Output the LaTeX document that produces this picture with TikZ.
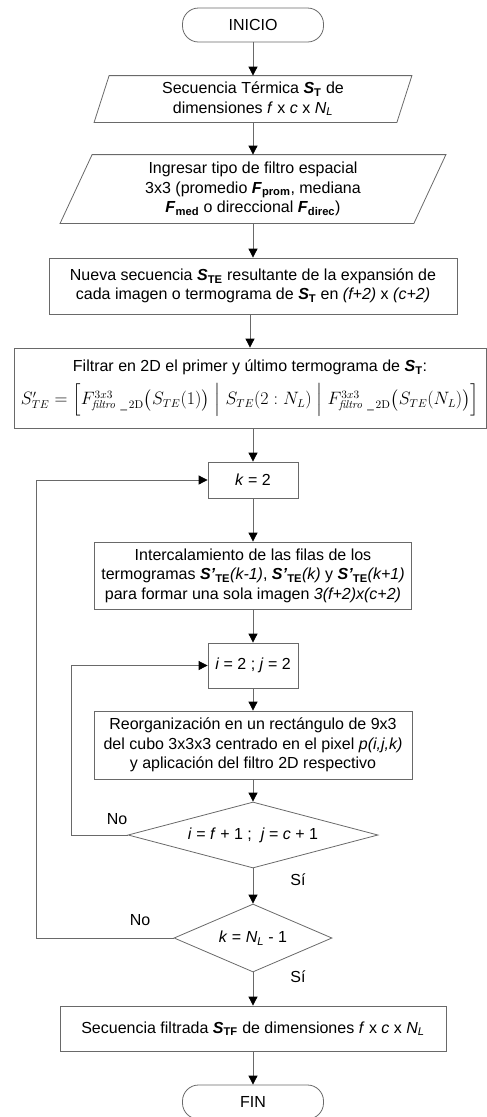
\documentclass[tikz,border=0pt]{standalone}
\usepackage{amsmath}
\usepackage{graphicx}
\usepackage[no-math]{fontspec}
\setmainfont{Liberation Sans}
\usetikzlibrary{positioning, shapes.geometric, arrows.meta, calc}

\definecolor{linegray}{RGB}{105,105,105}
\newcommand{\bv}[2]{\textbf{\textit{#1}\textsubscript{#2}}}
\newcommand{\iv}[2]{\textit{#1}\textsubscript{\textit{#2}}}

\tikzset{
  base/.style={draw=linegray, line width=0.8pt, text=black, font=\fontsize{16}{19.5}\selectfont, align=center, inner sep=0pt},
  procbox/.style={base, rectangle},
  termbox/.style={base, rectangle, rounded corners=16pt},
  iobox/.style={base, draw=none, rectangle},
  decision/.style={base, diamond},
  flow/.style={draw=linegray, line width=0.8pt, -{Triangle[width=9pt,length=9pt,color=black]}},
  lbl/.style={font=\fontsize{16}{19.5}\selectfont, inner sep=0pt}
}

\begin{document}
\begin{tikzpicture}[x=1pt, y=-1pt]
  \useasboundingbox (0,0) rectangle (487,1117);

  % Nodes
  \node[termbox, minimum width=141pt, minimum height=34pt] (inicio) at (253,25) {INICIO};
  \node[iobox, minimum width=317pt, minimum height=46pt] (entrada) at (253,99)
    {Secuencia Térmica \bv{S}{T} de\\dimensiones \textit{f} x \textit{c} x \iv{N}{L}};
  \node[iobox, minimum width=385pt, minimum height=68pt] (tipo) at (253,189)
    {Ingresar tipo de filtro espacial\\3x3 (promedio \bv{F}{prom}, mediana\\\bv{F}{med} o direccional \bv{F}{direc})};
  \node[procbox, minimum width=408pt, minimum height=56pt] (expand) at (253,286)
    {Nueva secuencia \bv{S}{TE} resultante de la expansión de\\cada imagen o termograma de \bv{S}{T} en \textit{(f+2)} x \textit{(c+2)}};
  \node[procbox, minimum width=472pt, minimum height=80pt] (bordes) at (250,388)
    {Filtrar en 2D el primer y último termograma de \bv{S}{T}:\\[8pt]
     \resizebox{458pt}{!}{$S'_{TE} = \Bigl[F^{3x3}_{\mathit{filtro}\ \text{\_}\,\mathrm{2D}}\bigl(S_{TE}(1)\bigr)\Bigm| S_{TE}(2:N_L)\Bigm| F^{3x3}_{\mathit{filtro}\ \text{\_}\,\mathrm{2D}}\bigl(S_{TE}(N_L)\bigr)\Bigr]$}};
  \node[procbox, minimum width=90pt, minimum height=36pt] (kini) at (253,480) {\textit{k} = 2};
  \node[procbox, minimum width=317pt, minimum height=67pt] (inter) at (253,575.5)
    {Intercalamiento de las filas de los\\termogramas \bv{S'}{TE}\textit{(k-1)}, \bv{S'}{TE}\textit{(k)} y \bv{S'}{TE}\textit{(k+1)}\\para formar una sola imagen \textit{3(f+2)x(c+2)}};
  \node[procbox, minimum width=90pt, minimum height=45pt] (ij) at (253,665.5) {\textit{i} = 2 ; \textit{j} = 2};
  \node[procbox, minimum width=318pt, minimum height=68pt] (reorg) at (253,745)
    {Reorganización en un rectángulo de 9x3\\del cubo 3x3x3 centrado en el pixel \textit{p(i,j,k)}\\y aplicación del filtro 2D respectivo};
  \node[decision, aspect=3.8, minimum width=250pt, minimum height=66pt] (fincol) at (253,835)
    {\textit{i} = \textit{f} + 1 ;~ \textit{j} = \textit{c} + 1};
  \node[decision, aspect=2.3, minimum width=158pt, minimum height=68pt] (fink) at (253,938)
    {\textit{k} = \iv{N}{L} - 1};
  \node[procbox, minimum width=386pt, minimum height=45pt] (salida) at (253,1028.5)
    {Secuencia filtrada \bv{S}{TF} de dimensiones \textit{f} x \textit{c} x \iv{N}{L}};
  \node[termbox, minimum width=141pt, minimum height=34pt] (fin) at (253,1102) {FIN};

  % Parallelograms
  \foreach \p/\s in {entrada/15, tipo/32}
  \draw[linegray, line width=0.8pt] ($(\p.north west)+(\s,0)$) -- (\p.north east)
    -- ($(\p.south east)-(\s,0)$) -- (\p.south west) -- cycle;

  % Labels
  \node[lbl] (no1) at (117,819) {No};
  \node[lbl] (si1) at (298,880) {Sí};
  \node[lbl] (no2) at (140,920) {No};
  \node[lbl] (si2) at (298,977) {Sí};

  % Arrows
  \foreach \a/\b in {inicio/entrada, entrada/tipo, tipo/expand, expand/bordes, bordes/kini,
                     kini/inter, inter/ij, ij/reorg, reorg/fincol, fincol/fink, fink/salida, salida/fin}
  \draw[flow] (\a.south -| \b.north) -- (\b.north);
  \draw[flow] (fincol.west) -- ++(-56,0) |- (ij.west);
  \draw[flow] (fink.west) -- ++(-137,0) |- (kini.west);
\end{tikzpicture}
\end{document}
